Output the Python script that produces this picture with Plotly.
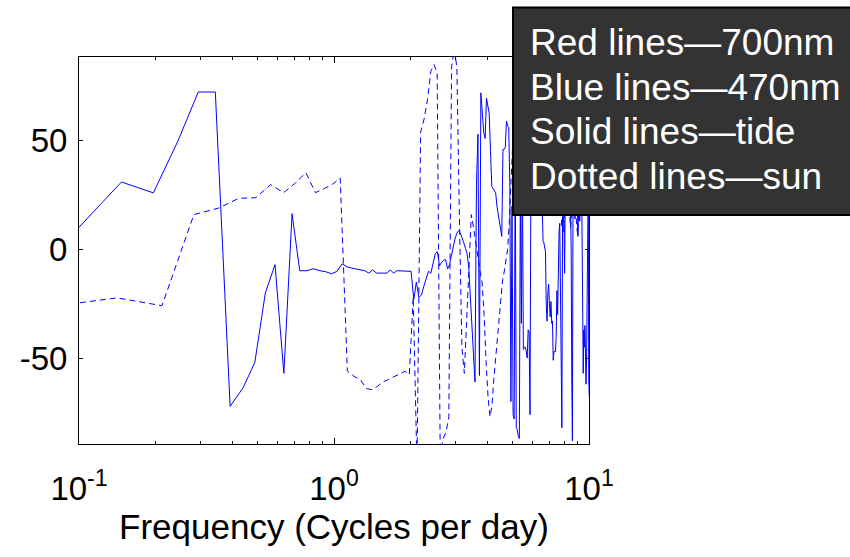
import numpy as np
import plotly.graph_objects as go

# Frequency grid spacing (cycles per day) of each series
TIDE_DF = 0.04892
SUN_DF = 0.07052

# Phase values (solid = tide), first point at 2*TIDE_DF
tide_phase = [
    9, 31, 26, 50, 72.4, 72.4, -72.2, -63.6, -52, -20,
    -7, -57, 16.4, -9.8, -9.8, -8.9, -9.8, -10.3, -11.2, -10.1,
    -6.6, -8, -8.6, -9, -9.6, -9.8, -10.9, -9.4, -10.9, -10.9,
    -10.9, -10.9, -9.4, -10.9, -9.8, -9.8, -10, -10, -10, -10.1,
    -23, -15, -22, -21, -17, -13, -10, -11, -7, -2,
    -1, -7.5, -6, -5, -4.7, -9, -7, -2.4, 1.5, 5,
    7.5, 8.6, 7.5, 5.5, 3, 0.5, -2, -8, -20, -33,
    -48, -61, 30, 53, -58, 72, 60, 54, 51, 69.6,
    66, 62.7, 45, 29, 28, 27, 26, 20, 16, 13,
    10, 6, 46, 46, 47, 59, 57, 56, 30, -70,
    20, -76, -78, 40, -82, -83, -86, -87, 30, -34,
    40, -46, -45, -45, -47, -50, -37, -38, -76, 40,
    50, 30, 45, 60, 55, 40, 35, 25, 30, 40,
    50, 35, 20, 4, 3, 1, -1, -26, -33, -20,
    -16, -25, -31, -24, -34, -33, -51, -47, -47, -47,
    -40, -19, -30, -5, 8, 12, -18, -60, -82, 15,
    30, 15, -11, 25, 40, 60, 50, 35, 45, 30,
    40, 25, 0, -60, -88, 30, 50, 35, 14, 20,
    40, 55, 30, 6, 20, 35, 13, 30, 50, 40,
    10, -30, -57, -37, -45, -35, -55, -62, -50, -20,
    10, 30, -60, -68,
]

# Phase values (dashed = sun), first point at 1*SUN_DF
sun_phase = [
    -26.9, -22.3, -25.9, 16, 19, 23.5, 23.8, 29.8, 26.1, 30.5,
    35.3, 26.1, 28, 30, 32.8, -56, -58.4, -60, -64, -64.5,
    -63, -61, -60, -59, -58, -57, -56, -57.6, -22, -100,
    54, 60, 69, 82, 85, 81, -95, -87, -84, -77,
    84, 92, 84, 15, -45, -57, -30, -5, 16, 10,
    3, -5, -10, -15, -30, -52, -68, -77, -72, -60,
    -50, -42, -30, -21, -14, -10, -5, 0, 12, 31,
    50, 62, 70, 75, 68, 55, 48, 60, 72, 80,
    74, 65, 58, 50, 45, 55, 66, 78, 82, 70,
    60, 52, 46, 40, 48, 58, 66, 72, 64, 55,
    45, 38, 30, 35, 42, 50, 44, 36, 28, 22,
    10, 20, 8, 25, 40, 35, 28, 22, 18, 10,
    14, 25, 35, 30, 22, 18, 10, 7, 20, 35,
    45, 50, 40, 35, 45, 55, 50, 40, 45, 50,
    42, 38,
]

tide_freq = TIDE_DF * np.arange(2, 2 + len(tide_phase))
sun_freq = SUN_DF * np.arange(1, 1 + len(sun_phase))

x_tickvals = [0.1, 1, 10]
x_ticktext = ["10<sup>-1</sup>", "10<sup>0</sup>", "10<sup>1</sup>"]
x_minorvals = [0.2, 0.3, 0.4, 0.5, 0.6, 0.7, 0.8, 0.9, 2, 3, 4, 5, 6, 7, 8, 9]
y_tickvals = [-50, 0, 50]
y_ticktext = ["-50", "0", "50"]
legend_lines = ["Red lines\u2014700nm", "Blue lines\u2014470nm",
                "Solid lines\u2014tide", "Dotted lines\u2014sun"]

FONT = "Liberation Sans, Arial, Helvetica, sans-serif"
BLUE = "#0000ff"

fig = go.Figure()
fig.add_trace(go.Scatter(x=tide_freq, y=tide_phase, mode="lines",
                         line=dict(color=BLUE, width=1), name="tide"))
fig.add_trace(go.Scatter(x=sun_freq, y=sun_phase, mode="lines",
                         line=dict(color=BLUE, width=1, dash="6px,4px"), name="sun"))

# plot area in pixels
L, R, T, B = 79, 589, 57, 444
W, H = R - L, B - T
def px(x):
    return (x - L) / W
def py(y):
    return (B - y) / H

fig.update_layout(
    width=850, height=557,
    margin=dict(l=L, r=850 - R, t=T, b=557 - B, pad=0),
    paper_bgcolor="white", plot_bgcolor="white",
    showlegend=False,
    font=dict(family=FONT, color="black"),
)
fig.update_xaxes(
    type="log", range=[-1, 1],
    tickmode="array", tickvals=x_tickvals, ticktext=x_ticktext,
    ticks="inside", ticklen=6, tickwidth=1, tickcolor="black",
    showline=True, linecolor="black", linewidth=1, mirror="ticks",
    showgrid=False, zeroline=False,
    tickfont=dict(size=33, family=FONT, color="black"),
    ticklabelstandoff=15,
    minor=dict(ticks="inside", ticklen=3, tickwidth=1, tickcolor="black",
               tickmode="array", tickvals=x_minorvals, showgrid=False),
    title=dict(text="Frequency (Cycles per day)",
               font=dict(size=35, family=FONT, color="black"), standoff=8),
)
fig.update_yaxes(
    range=[-89.5, 88.5],
    tickmode="array", tickvals=y_tickvals, ticktext=y_ticktext,
    ticks="inside", ticklen=4, tickwidth=1, tickcolor="black",
    showline=True, linecolor="black", linewidth=1, mirror="ticks",
    showgrid=False, zeroline=False,
    tickfont=dict(size=33, family=FONT, color="black"),
    ticklabelstandoff=4,
)

# legend box
fig.add_shape(type="rect", xref="paper", yref="paper",
              x0=px(513), x1=px(860), y0=py(215), y1=py(7.5),
              fillcolor="#333333", line=dict(color="black", width=2),
              layer="above")
centers = [42.5, 87.5, 131, 176]
for txt, yc in zip(legend_lines, centers):
    fig.add_annotation(text=txt, xref="paper", yref="paper",
                       x=px(528), y=py(yc), xanchor="left", yanchor="middle",
                       showarrow=False,
                       font=dict(size=37, family=FONT, color="white"))

fig.write_html("out.html")
